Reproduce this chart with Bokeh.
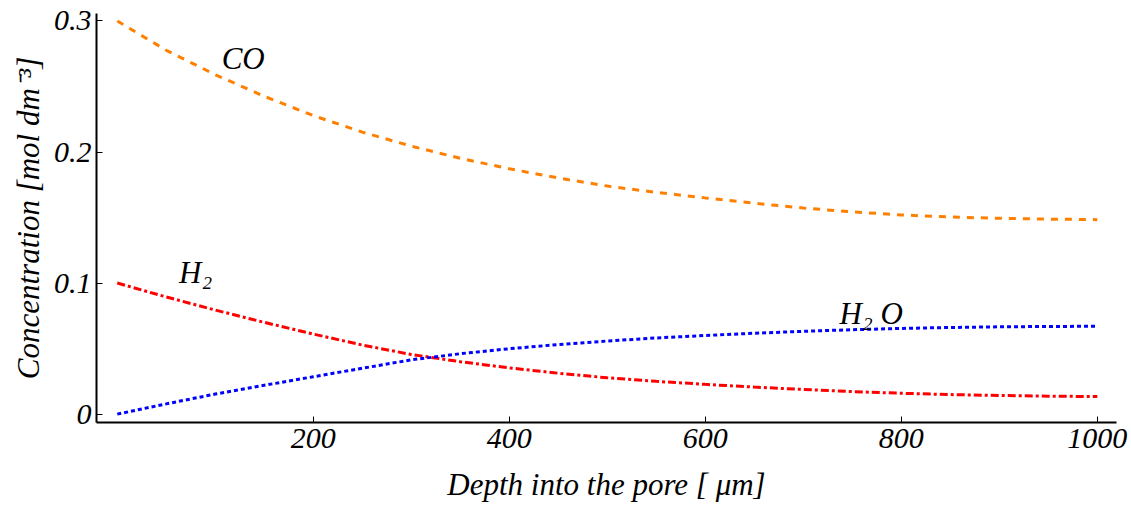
from bokeh.plotting import figure
from bokeh.models import ColumnDataSource, FixedTicker, Range1d
from bokeh.core.properties import value
from bokeh.embed import file_html
from bokeh.resources import INLINE

# Data (every 50 µm)
depth = [0, 50, 100, 150, 200, 250, 300, 350, 400, 450, 500,
         550, 600, 650, 700, 750, 800, 850, 900, 950, 1000]
co = [0.300, 0.2776, 0.259, 0.2425, 0.2278, 0.2152, 0.2045, 0.1952, 0.1872, 0.1802, 0.1740,
      0.1692, 0.1650, 0.1609, 0.1573, 0.1543, 0.1520, 0.1504, 0.1494, 0.1488, 0.1484]
h2 = [0.100, 0.0894, 0.0794, 0.0700, 0.0611, 0.0527, 0.0455, 0.0400, 0.0353, 0.0312, 0.0277,
      0.0250, 0.0227, 0.0206, 0.0188, 0.0172, 0.0159, 0.0149, 0.0142, 0.0137, 0.0134]
h2o = [0.000, 0.0078, 0.0153, 0.0220, 0.0285, 0.0350, 0.0414, 0.0461, 0.0499, 0.0531, 0.0558,
       0.0581, 0.0600, 0.0617, 0.0632, 0.0644, 0.0654, 0.0661, 0.0666, 0.0669, 0.0670]

x_ticks = [200, 400, 600, 800, 1000]
y_ticks = [0, 0.1, 0.2, 0.3]
y_tick_labels = {0: "0", 0.1: "0.1", 0.2: "0.2", 0.3: "0.3"}

label_text = ["CO", "H₂", "H₂ O"]
label_x = [106.5, 63, 737]
label_y = [0.2717, 0.108, 0.0766]

FONT = "Liberation Serif"

p = figure(width=1131, height=505, output_backend="svg", toolbar_location=None,
           x_range=Range1d(-21.2, 1019.6), y_range=Range1d(-0.0064, 0.3057),
           min_border_left=96, min_border_right=15, min_border_top=13, min_border_bottom=83)

p.line(depth, co, line_color="#FF8000", line_width=3, line_dash="7 7")
p.line(depth, h2, line_color="#FF0000", line_width=3, line_dash="8 3 3 3")
p.line(depth, h2o, line_color="#0000FF", line_width=3, line_dash="4 3")

src = ColumnDataSource(dict(x=label_x, y=label_y, t=label_text))
p.text(x="x", y="y", text="t", source=src, text_font=value(FONT), text_font_style="italic",
       text_font_size="31px", text_color="black", text_align="left", text_baseline="alphabetic")

p.grid.visible = False
p.outline_line_color = None
p.background_fill_color = "white"
p.border_fill_color = "white"

for ax in (p.xaxis[0], p.yaxis[0]):
    ax.axis_line_color = "black"
    ax.axis_line_width = 2
    ax.major_tick_in = 6
    ax.major_tick_out = 0
    ax.major_tick_line_color = "black"
    ax.major_tick_line_width = 1
    ax.minor_tick_line_color = None
    ax.major_label_text_font = FONT
    ax.major_label_text_font_style = "italic"
    ax.major_label_text_font_size = "30px"
    ax.major_label_text_color = "black"
    ax.axis_label_text_font = FONT
    ax.axis_label_text_font_style = "italic"
    ax.axis_label_text_font_size = "31px"
    ax.axis_label_text_color = "black"

p.xaxis.ticker = FixedTicker(ticks=x_ticks)
p.yaxis.ticker = FixedTicker(ticks=y_ticks)
p.yaxis.major_label_overrides = y_tick_labels
p.xaxis.axis_label = "Depth into the pore [ μm]"
p.yaxis.axis_label = "Concentration [mol dm⁻³]"
p.xaxis.major_label_standoff = 6
p.yaxis.major_label_standoff = 5
p.xaxis.axis_label_standoff = 16
p.yaxis.axis_label_standoff = 5

open("out.html", "w").write(file_html(p, INLINE))
